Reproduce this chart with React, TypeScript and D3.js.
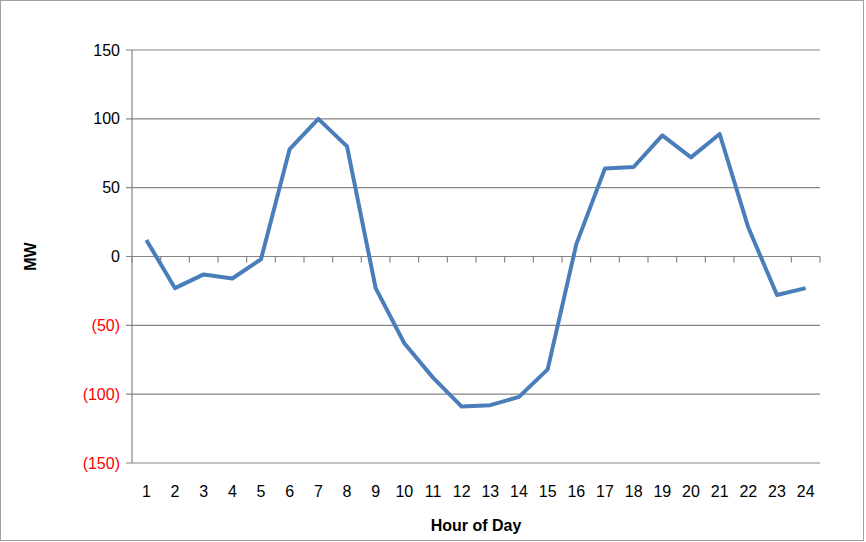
import React from 'react';
import * as d3 from 'd3';

const hours = d3.range(1, 25).map(String);
const mw = [12, -23, -13, -16, -2, 78, 100, 80, -23, -63, -88, -109, -108, -102, -82, 9, 64, 65, 88, 72, 89, 21, -28, -23];
const yTicks = [150, 100, 50, 0, -50, -100, -150];

const W = 866, H = 542;
const left = 132, right = 820, top = 50, bottom = 463;

export default function App() {
  const x = d3.scaleBand().domain(hours).range([left, right]);
  const y = d3.scaleLinear().domain([-150, 150]).range([bottom, top]);
  const line = d3.line<number>()
    .x((_, i) => (x(hours[i]) as number) + x.bandwidth() / 2)
    .y(d => y(d))
    .curve(d3.curveLinear);
  const fmt = (v: number) => (v < 0 ? `(${Math.abs(v)})` : `${v}`);
  const font = '"Liberation Sans", Arial, sans-serif';

  return (
    <svg width={W} height={H} style={{ position: 'absolute', left: 0, top: 0 }} fontFamily={font}>
      <rect x={0.5} y={0.5} width={W - 3} height={H - 2} fill="white" stroke="#a0a0a0" />
      {yTicks.map(t => (
        <g key={t}>
          <line x1={left - 6} x2={right} y1={y(t)} y2={y(t)} stroke="#868686" strokeWidth={1.2} />
          <text x={left - 12} y={y(t)} dy="0.35em" textAnchor="end" fontSize={16}
            fill={t < 0 ? '#ff0000' : '#000'}>{fmt(t)}</text>
        </g>
      ))}
      <line x1={left} x2={left} y1={top} y2={bottom} stroke="#868686" strokeWidth={1.2} />
      {d3.range(25).map(i => {
        const xx = left + i * x.step();
        return <line key={i} x1={xx} x2={xx} y1={y(0)} y2={y(0) + 6} stroke="#868686" strokeWidth={1.2} />;
      })}
      {hours.map(h => (
        <text key={h} x={(x(h) as number) + x.bandwidth() / 2} y={bottom + 34} textAnchor="middle" fontSize={16}>{h}</text>
      ))}
      <path d={line(mw) ?? ''} fill="none" stroke="#4a7ebb" strokeWidth={4} strokeLinejoin="round" />
      <text transform={`translate(36,${(top + bottom) / 2}) rotate(-90)`} textAnchor="middle" fontSize={16} fontWeight="bold">MW</text>
      <text x={(left + right) / 2} y={531} textAnchor="middle" fontSize={16} fontWeight="bold">Hour of Day</text>
    </svg>
  );
}
